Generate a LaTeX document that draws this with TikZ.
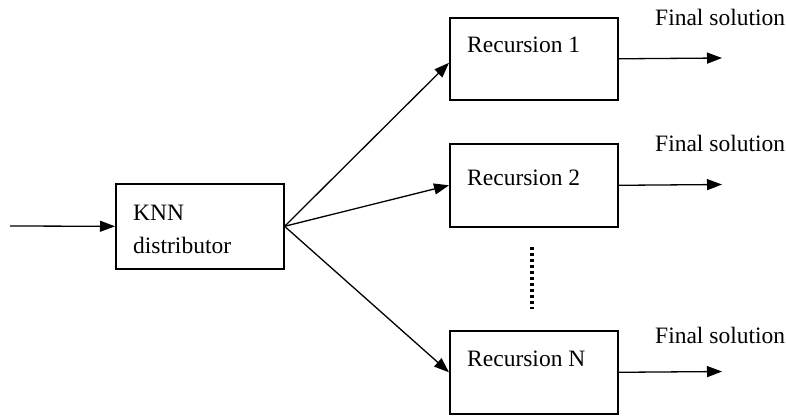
\documentclass[tikz,border=0pt]{standalone}
\usepackage{fontspec}
\setmainfont{Liberation Serif}
\usetikzlibrary{arrows.meta}
\begin{document}
\begin{tikzpicture}[x=1pt,y=-1pt,
  box/.style={draw, line width=1.6pt, rectangle, inner sep=0pt, anchor=north west, minimum width=168pt},
  lbl/.style={anchor=base west, inner sep=0pt, font=\fontsize{23.5}{27}\selectfont},
  arr/.style={line width=1.3pt, -{Triangle[length=15pt,width=11pt]}},
  dots/.style={line width=3.5pt, dash pattern=on 3pt off 3pt}]
\useasboundingbox (0,0) rectangle (786,415);
% boxes
\node[box, minimum height=85pt] (knn) at (115,183) {};
\node[box, minimum height=82pt] (rec1) at (449,17) {};
\node[box, minimum height=83pt] (rec2) at (449,143) {};
\node[box, minimum height=83pt] (recN) at (449,330) {};
% box texts
\node[lbl] (knnA) at (133,220) {KNN};
\node[lbl] (knnB) at (133,253) {distributor};
\node[lbl] (t1) at (467,52) {Recursion 1};
\node[lbl] (t2) at (467,185) {Recursion 2};
\node[lbl] (tN) at (467,366) {Recursion N};
% final solution labels
\node[lbl] (f1) at (655,25) {Final solution};
\node[lbl] (f2) at (655,151) {Final solution};
\node[lbl] (fN) at (655,343) {Final solution};
% free ends
\coordinate (in) at (10,226);
\coordinate (o1) at (722,58);
\coordinate (o2) at (722,184.5);
\coordinate (oN) at (722,371.5);
\coordinate (d1) at (532,247);
\coordinate (d2) at (532,309);
% connectors
\draw[arr] (in) -- (knn.west);
\draw[arr] (knn.east) -- ([yshift=-4pt]rec1.west);
\draw[arr] (knn.east) -- (rec2.west);
\draw[arr] (knn.east) -- (recN.west);
\draw[arr] (rec1.east) -- (o1);
\draw[arr] (rec2.east) -- (o2);
\draw[arr] (recN.east) -- (oN);
% ellipsis
\draw[dots] (d1) -- (d2);
\end{tikzpicture}
\end{document}
